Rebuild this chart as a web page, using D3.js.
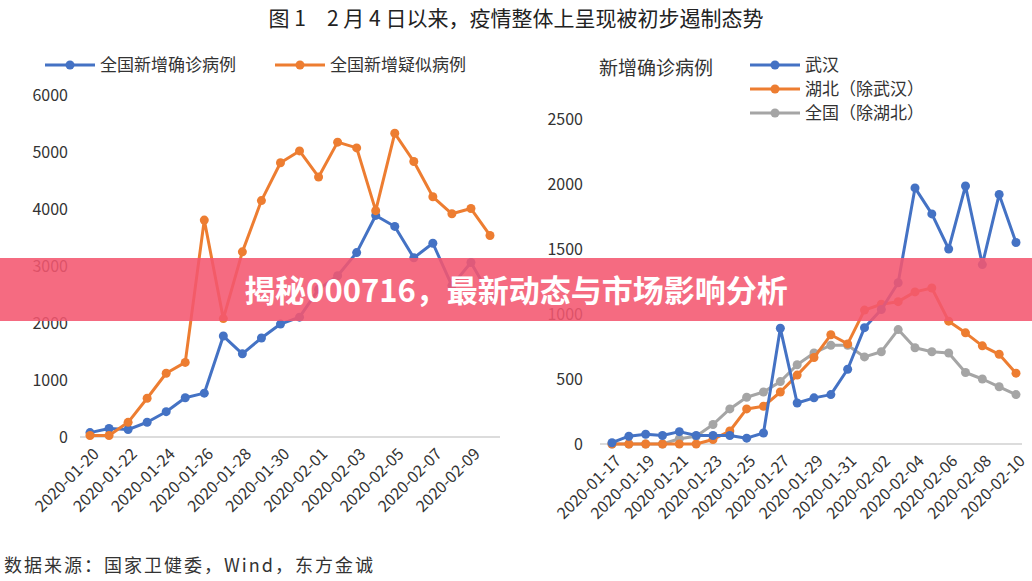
<!DOCTYPE html>
<html><head><meta charset="utf-8">
<script src="https://cdn.jsdelivr.net/npm/d3@7/dist/d3.min.js"></script>
<style>
body{margin:0;background:#fff;}
text{font-family:"Noto Sans CJK SC","Noto Sans",sans-serif;}
</style></head>
<body><svg id="c" width="1032" height="581"></svg>
<script>
// 左图:全国新增确诊/疑似
const leftDates = ["2020-01-20","2020-01-21","2020-01-22","2020-01-23","2020-01-24","2020-01-25","2020-01-26","2020-01-27","2020-01-28","2020-01-29","2020-01-30","2020-01-31","2020-02-01","2020-02-02","2020-02-03","2020-02-04","2020-02-05","2020-02-06","2020-02-07","2020-02-08","2020-02-09","2020-02-10"];
const confirmed = [77,149,131,259,444,688,769,1771,1459,1737,1981,2102,2590,2829,3235,3887,3694,3143,3399,2656,3062,2478];
const suspected = [27,26,257,680,1118,1309,3806,2077,3248,4148,4812,5019,4562,5173,5072,3971,5328,4833,4214,3916,4008,3536];
const leftTicks = [0,1000,2000,3000,4000,5000,6000];

// 右图:分地区新增确诊
const rightDates = ["2020-01-17","2020-01-18","2020-01-19","2020-01-20","2020-01-21","2020-01-22","2020-01-23","2020-01-24","2020-01-25","2020-01-26","2020-01-27","2020-01-28","2020-01-29","2020-01-30","2020-01-31","2020-02-01","2020-02-02","2020-02-03","2020-02-04","2020-02-05","2020-02-06","2020-02-07","2020-02-08","2020-02-09","2020-02-10"];
const wuhan = [10,60,75,65,95,65,65,65,45,85,890,315,355,380,575,895,1035,1240,1970,1770,1500,1985,1380,1920,1550];
const hubeiExWuhan = [0,0,0,0,0,0,35,100,270,290,400,530,665,840,770,1030,1075,1095,1170,1200,945,855,755,690,545];
const chinaExHubei = [0,0,0,0,40,60,150,270,360,400,480,610,700,760,760,670,710,880,740,710,700,550,500,440,380];
const rightTicks = [0,500,1000,1500,2000,2500];

const BLUE = "#4472c4", ORANGE = "#ed7d31", GRAY = "#a5a5a5";
const svg = d3.select("#c");

svg.append("text").attr("x", 516).attr("y", 26).attr("text-anchor", "middle")
  .attr("font-size", 21).attr("fill", "#222").text("图 1　2 月 4 日以来，疫情整体上呈现被初步遏制态势");

function panel(o) {
  const x = d3.scalePoint().domain(o.dates).range(o.xr);
  const y = d3.scaleLinear().domain([0, o.max]).range(o.yr);
  const g = svg.append("g");
  g.append("line").attr("x1", o.axis[0]).attr("x2", o.axis[1]).attr("y1", y(0)).attr("y2", y(0))
    .attr("stroke", "#d0d0d0").attr("stroke-width", 1.5);
  g.selectAll(".yt").data(o.ticks).join("text")
    .attr("x", o.yLabelX).attr("y", (d) => y(d)).attr("dy", "0.35em").attr("text-anchor", "end")
    .attr("font-size", 16).attr("fill", "#333").text((d) => d);
  g.selectAll(".xt").data(o.dates.filter((d, i) => i % 2 === 0)).join("text")
    .attr("transform", (d) => `translate(${x(d) + 6},${y(0) + 14}) rotate(-45)`)
    .attr("text-anchor", "end").attr("dy", "0.35em")
    .attr("font-size", 16).attr("fill", "#333").text((d) => d);
  for (const s of o.series) {
    const line = d3.line().x((d, i) => x(o.dates[i])).y((d) => y(d));
    g.append("path").datum(s.values).attr("d", line).attr("fill", "none")
      .attr("stroke", s.color).attr("stroke-width", 3).attr("stroke-linejoin", "round");
    g.selectAll(null).data(s.values).join("circle")
      .attr("cx", (d, i) => x(o.dates[i])).attr("cy", (d) => y(d)).attr("r", 4.5).attr("fill", s.color);
  }
}

panel({ dates: leftDates, max: 6000, ticks: leftTicks, xr: [90, 490], yr: [437, 95], axis: [80, 500], yLabelX: 68,
  series: [{ values: confirmed, color: BLUE }, { values: suspected, color: ORANGE }] });
panel({ dates: rightDates, max: 2500, ticks: rightTicks, xr: [612, 1016], yr: [444, 119], axis: [600, 1022], yLabelX: 583,
  series: [{ values: chinaExHubei, color: GRAY }, { values: hubeiExWuhan, color: ORANGE }, { values: wuhan, color: BLUE }] });

// 图例
function legendItem(x, y, color, label) {
  svg.append("line").attr("x1", x).attr("x2", x + 50).attr("y1", y).attr("y2", y).attr("stroke", color).attr("stroke-width", 3);
  svg.append("circle").attr("cx", x + 25).attr("cy", y).attr("r", 4.5).attr("fill", color);
  svg.append("text").attr("x", x + 55).attr("y", y).attr("dy", "0.35em").attr("font-size", 17).attr("fill", "#333").text(label);
}
legendItem(45, 65, BLUE, "全国新增确诊病例");
legendItem(275, 65, ORANGE, "全国新增疑似病例");
legendItem(750, 65, BLUE, "武汉");
legendItem(750, 89, ORANGE, "湖北（除武汉）");
legendItem(750, 113, GRAY, "全国（除湖北）");
svg.append("text").attr("x", 599).attr("y", 68).attr("dy", "0.35em").attr("font-size", 19).attr("fill", "#333").text("新增确诊病例");

svg.append("text").attr("x", 4).attr("y", 566).attr("dy", "0.35em").attr("font-size", 18).attr("letter-spacing", 2).attr("fill", "#333")
  .text("数据来源：国家卫健委，Wind，东方金诚");

// 横幅
svg.append("rect").attr("x", 0).attr("y", 258).attr("width", 1032).attr("height", 63).attr("fill", "#f4576f").attr("opacity", 0.88);
svg.append("text").attr("x", 516).attr("y", 291).attr("dy", "0.35em").attr("text-anchor", "middle")
  .attr("font-size", 31).attr("font-weight", "bold").attr("fill", "#fff").text("揭秘000716，最新动态与市场影响分析");
</script></body></html>
